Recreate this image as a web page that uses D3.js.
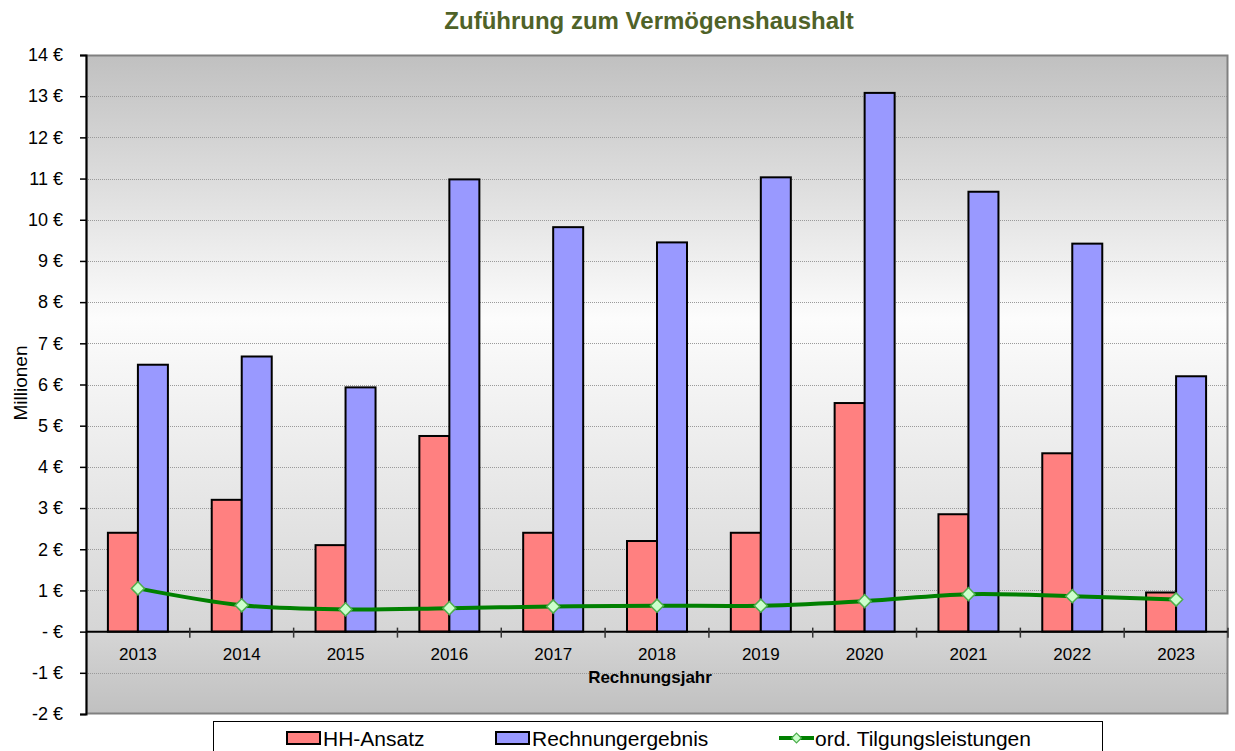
<!DOCTYPE html>
<html>
<head>
<meta charset="utf-8">
<script src="https://cdn.jsdelivr.net/npm/d3@7"></script>
<style>
	body { margin: 0; background: #fff; }
	svg { font-family: 'Liberation Sans', Arial, sans-serif; }
	.grid line { stroke: #9a9a9a; stroke-width: 1; stroke-dasharray: 1,1; }
</style>
</head>
<body>
<svg id="chart" width="1235" height="751"></svg>
<script>
// Werte in Mio. €
let years = ['2013', '2014', '2015', '2016', '2017', '2018', '2019', '2020', '2021', '2022', '2023']
let hhAnsatz = [2.40, 3.20, 2.10, 4.75, 2.40, 2.20, 2.40, 5.55, 2.85, 4.33, 0.95]
let rechnung = [6.48, 6.68, 5.93, 10.98, 9.82, 9.45, 11.03, 13.08, 10.68, 9.42, 6.20]
let tilgung = [1.05, 0.64, 0.54, 0.57, 0.61, 0.63, 0.63, 0.74, 0.91, 0.86, 0.78]
let yTicks = [-2, -1, 0, 1, 2, 3, 4, 5, 6, 7, 8, 9, 10, 11, 12, 13, 14]
let seriesNames = ['HH-Ansatz', 'Rechnungergebnis', 'ord. Tilgungsleistungen']

let colors = {
	'HH-Ansatz' : '#ff8080',
	'Rechnungergebnis' : '#9999ff'
}

let margin = { top: 55, right: 7, bottom: 37, left: 86 }
let width = 1235
let height = 751
let innerW = width - margin.left - margin.right
let innerH = height - margin.top - margin.bottom

let svg = d3.select('#chart')

// gradient for plot area
let defs = svg.append('defs')
let grad = defs.append('linearGradient')
	.attr('id', 'bg')
	.attr('x1', 0).attr('y1', 0)
	.attr('x2', 0).attr('y2', 1)
grad.append('stop').attr('offset', '0%').attr('stop-color', '#c0c0c0')
grad.append('stop').attr('offset', '40%').attr('stop-color', '#fcfcfc')
grad.append('stop').attr('offset', '87%').attr('stop-color', '#d6d6d6')
grad.append('stop').attr('offset', '100%').attr('stop-color', '#c0c0c0')

let g = svg.append('g')
	.attr('transform', `translate(${margin.left},${margin.top})`)

let y = d3.scaleLinear()
	.domain([-2, 14])
	.range([innerH, 0])

let x0 = d3.scaleBand()
	.domain(years)
	.range([0, innerW])

let bw = x0.bandwidth()

let x1 = d3.scaleBand()
	.domain(['HH-Ansatz', 'Rechnungergebnis'])
	.range([bw / 2 - 30, bw / 2 + 30])

g.append('rect')
	.attr('width', innerW)
	.attr('height', innerH)
	.attr('fill', 'url(#bg)')

// gridlines
g.append('g')
	.attr('class', 'grid')
	.selectAll('line')
	.data(yTicks.filter(d => d !== 0 && d !== 14 && d !== -2))
	.enter()
	.append('line')
	.attr('x1', 0)
	.attr('x2', innerW)
	.attr('y1', d => Math.round(y(d)) + 0.5)
	.attr('y2', d => Math.round(y(d)) + 0.5)

// plot border
g.append('rect')
	.attr('x', 0.5)
	.attr('y', 0.5)
	.attr('width', innerW - 1)
	.attr('height', innerH - 1)
	.attr('fill', 'none')
	.attr('stroke', '#808080')
	.attr('stroke-width', 2)

// bars
let barData = years.map((yr, i) => ({
	year: yr,
	values: [
		{ key: 'HH-Ansatz', value: hhAnsatz[i] },
		{ key: 'Rechnungergebnis', value: rechnung[i] }
	]
}))

g.selectAll('.year')
	.data(barData)
	.enter()
	.append('g')
	.attr('transform', d => `translate(${x0(d.year)},0)`)
	.selectAll('rect')
	.data(d => d.values)
	.enter()
	.append('rect')
	.attr('x', d => x1(d.key))
	.attr('y', d => y(d.value))
	.attr('width', x1.bandwidth())
	.attr('height', d => y(0) - y(d.value))
	.attr('fill', d => colors[d.key])
	.attr('stroke', '#000')
	.attr('stroke-width', 2)

// y axis
let yAxis = g.append('g')
	.call(d3.axisLeft(y)
		.tickValues(yTicks)
		.tickSize(6)
		.tickFormat(d => d === 0 ? '- €' : d + ' €'))
yAxis.select('.domain').attr('stroke', '#000').attr('stroke-width', 2)
yAxis.selectAll('.tick line').attr('stroke', '#000').attr('stroke-width', 1.5)
yAxis.selectAll('.tick text')
	.attr('x', -23)
	.attr('font-size', 18)
	.attr('font-family', 'Liberation Sans, Arial, sans-serif')
	.attr('fill', '#000')

// x axis at zero
let xAxis = g.append('g')
	.attr('transform', `translate(0,${y(0)})`)

xAxis.append('line')
	.attr('x1', 0)
	.attr('x2', innerW)
	.attr('stroke', '#000')
	.attr('stroke-width', 2)

xAxis.selectAll('.xtick')
	.data(years.slice(1).concat(['end']))
	.enter()
	.append('line')
	.attr('x1', d => d === 'end' ? innerW : x0(d))
	.attr('x2', d => d === 'end' ? innerW : x0(d))
	.attr('y1', -4)
	.attr('y2', 6)
	.attr('stroke', '#333')
	.attr('stroke-width', 1.5)

xAxis.selectAll('.xlabel')
	.data(years)
	.enter()
	.append('text')
	.attr('x', d => x0(d) + bw / 2)
	.attr('y', 28)
	.attr('text-anchor', 'middle')
	.attr('font-size', 17)
	.attr('fill', '#000')
	.text(d => d)

// line
let lineData = years.map((yr, i) => ({ year: yr, value: tilgung[i] }))

let line = d3.line()
	.x(d => x0(d.year) + bw / 2)
	.y(d => y(d.value))
	.curve(d3.curveCatmullRom.alpha(0.5))

g.append('path')
	.datum(lineData)
	.attr('d', line)
	.attr('fill', 'none')
	.attr('stroke', '#008000')
	.attr('stroke-width', 4)

let diamond = d3.symbol().type(d3.symbolDiamond2).size(110)

g.selectAll('.marker')
	.data(lineData)
	.enter()
	.append('path')
	.attr('d', diamond)
	.attr('transform', d => `translate(${x0(d.year) + bw / 2},${y(d.value)})`)
	.attr('fill', '#ccffcc')
	.attr('stroke', '#4cae4c')
	.attr('stroke-width', 1.5)

// titles
svg.append('text')
	.attr('x', 649)
	.attr('y', 29)
	.attr('text-anchor', 'middle')
	.attr('font-size', 24)
	.attr('font-weight', 'bold')
	.attr('fill', '#4f6228')
	.text('Zuführung zum Vermögenshaushalt')

svg.append('text')
	.attr('transform', 'translate(27,383) rotate(-90)')
	.attr('text-anchor', 'middle')
	.attr('font-size', 19)
	.attr('fill', '#000')
	.text('Millionen')

svg.append('text')
	.attr('x', 650)
	.attr('y', 683)
	.attr('text-anchor', 'middle')
	.attr('font-size', 17)
	.attr('font-weight', 'bold')
	.attr('fill', '#000')
	.text('Rechnungsjahr')

// legend
let legend = svg.append('g')

legend.append('rect')
	.attr('x', 213.5)
	.attr('y', 721.5)
	.attr('width', 889)
	.attr('height', 40)
	.attr('fill', '#fff')
	.attr('stroke', '#000')
	.attr('stroke-width', 1)

let legendX = [287, 496, 779]

seriesNames.forEach((name, i) => {
	let lx = legendX[i]
	let item = legend.append('g').attr('transform', `translate(${lx},738)`)
	if (colors[name]) {
		item.append('rect')
			.attr('x', 0)
			.attr('y', -6)
			.attr('width', 33)
			.attr('height', 12)
			.attr('fill', colors[name])
			.attr('stroke', '#000')
			.attr('stroke-width', 2)
	} else {
		item.append('line')
			.attr('x1', 0)
			.attr('x2', 35)
			.attr('stroke', '#008000')
			.attr('stroke-width', 4)
		item.append('path')
			.attr('d', d3.symbol().type(d3.symbolDiamond2).size(60))
			.attr('transform', 'translate(17.5,0)')
			.attr('fill', '#ccffcc')
			.attr('stroke', '#4cae4c')
			.attr('stroke-width', 1.2)
	}
	item.append('text')
		.attr('x', 36)
		.attr('y', 8)
		.attr('font-size', 21)
		.attr('fill', '#000')
		.text(name)
})
</script>
</body>
</html>
